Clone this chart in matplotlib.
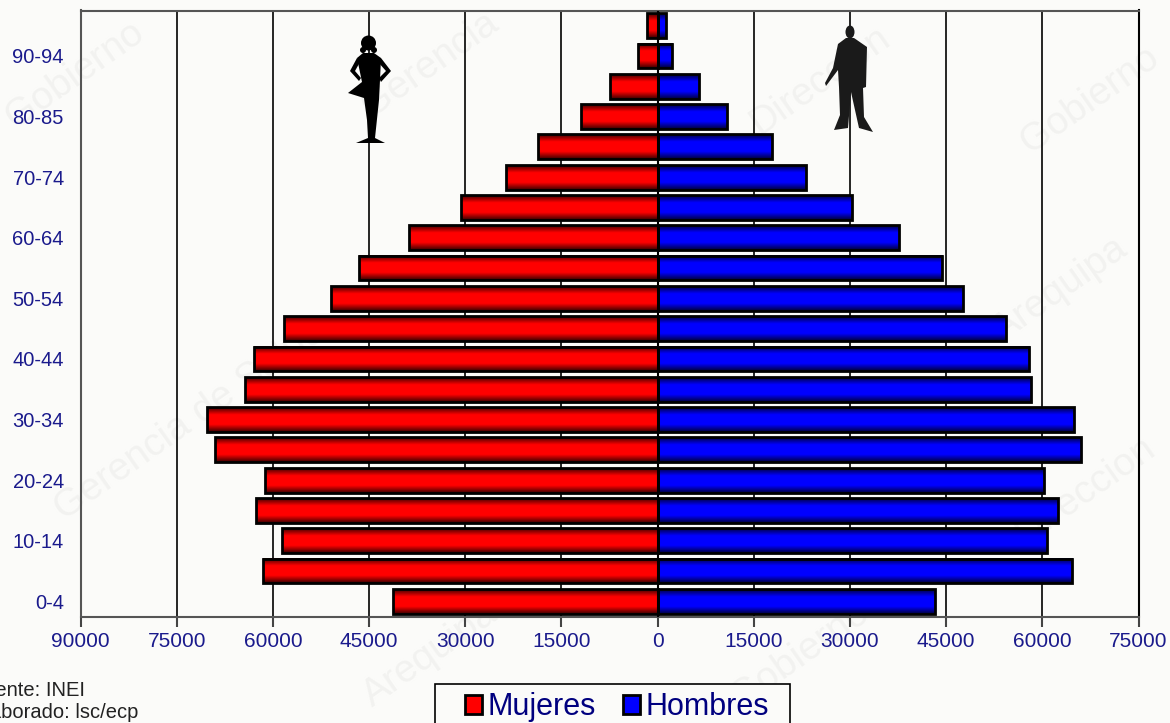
import numpy as np
import matplotlib
matplotlib.use("Agg")
import matplotlib.pyplot as plt
from matplotlib.colors import LinearSegmentedColormap
from matplotlib.patches import Polygon, Ellipse, Patch, Rectangle
from matplotlib.transforms import Affine2D

plt.rcParams['font.family'] = ['Liberation Sans', 'DejaVu Sans']

W, H = 1170, 723
BG = '#fbfbf9'
NAVY = '#1a1a8c'

# bottom row first: 0-4 ... 95+
mujeres = [41300, 61500, 58500, 62600, 61200, 69000, 70200, 64300, 62900, 58300,
           51000, 46500, 38700, 30600, 23700, 18700, 11900, 7500, 3000, 1700]
hombres = [43200, 64700, 60700, 62400, 60200, 66100, 65000, 58300, 58000, 54300,
           47700, 44300, 37600, 30300, 23100, 17800, 10900, 6400, 2300, 1250]

age_labels = ['0-4', '10-14', '20-24', '30-34', '40-44', '50-54', '60-64', '70-74', '80-85', '90-94']
x_ticks = [-90000, -75000, -60000, -45000, -30000, -15000, 0, 15000, 30000, 45000, 60000, 75000]

# silhouettes, in image pixels
woman_body = [(363, 53), (374, 53), (381, 58), (380, 80), (379, 100), (375, 138), (385, 143),
              (356, 143), (368, 138), (367, 120), (364, 98), (348, 93), (362, 82), (357, 58)]
woman_arm_l = [(357, 58), (350, 71), (359, 81), (361, 78), (355, 71), (360, 62)]
woman_arm_r = [(381, 58), (391, 71), (381, 82), (379, 78), (386, 71), (378, 62)]
man_body = [(846, 38), (854, 38), (867, 47), (866, 87), (863, 88), (864, 117), (873, 132),
            (859, 128), (851, 92), (848, 128), (834, 130), (840, 115), (839, 87), (838, 70),
            (826, 86), (825, 83), (833, 68), (838, 44)]

# watermark text scattered behind the chart
marks = [("Gobierno", 75, 75), ("Gerencia", 430, 65), ("Direccion", 820, 80), ("Gobierno", 1090, 100),
         ("Gerencia de Salud", 190, 420), ("Arequipa", 1060, 290), ("Direccion", 1085, 490),
         ("Arequipa", 430, 655), ("Gobierno", 800, 655)]


def gradient_bars(ax, widths, cmap):
    bars = ax.barh(np.arange(len(widths)), widths, height=0.82, facecolor='none',
                   edgecolor='black', linewidth=2, zorder=3)
    ramp = np.abs(np.linspace(-1, 1, 64)).reshape(-1, 1)
    for b in bars:
        x0, x1 = sorted((b.get_x(), b.get_x() + b.get_width()))
        y0, y1 = b.get_y(), b.get_y() + b.get_height()
        ax.imshow(ramp, extent=[x0, x1, y0, y1], cmap=cmap, vmin=0, vmax=1,
                  aspect='auto', zorder=2, interpolation='bilinear')


fig = plt.figure(figsize=(W / 100, H / 100), dpi=100, facecolor=BG)
px = Affine2D().scale(1, -1).translate(0, H)

for txt, mx, my in marks:
    fig.text(mx / W, 1 - my / H, txt, fontsize=28, color='#f2f2f0', rotation=35,
             ha='center', va='center', zorder=0)

ax = fig.add_axes([80.5 / W, 1 - 616.5 / H, (1138.5 - 80.5) / W, (616.5 - 10.5) / H], zorder=1)
ax.patch.set_alpha(0)

red = LinearSegmentedColormap.from_list('r', [(0, '#ff0000'), (0.4, '#ff0000'), (1, '#3c0000')])
blue = LinearSegmentedColormap.from_list('b', [(0, '#0000ff'), (0.4, '#0000ff'), (1, '#00003c')])
gradient_bars(ax, -np.array(mujeres), red)
gradient_bars(ax, np.array(hombres), blue)

ax.set_xlim(-90000, 75000)
ax.set_ylim(-0.5, 19.5)
ax.set_xticks(x_ticks)
ax.set_xticklabels([str(abs(v)) for v in x_ticks])
ax.set_yticks(np.arange(0, 20, 2))
ax.set_yticklabels(age_labels)
ax.tick_params(axis='x', length=7, width=1.5, color='#444444', labelsize=15, labelcolor=NAVY, pad=4)
ax.tick_params(axis='y', length=0, labelsize=14.5, labelcolor=NAVY, pad=12)
ax.grid(axis='x', color='black', linewidth=1.2, zorder=1)
ax.set_axisbelow(True)
for side in ['top', 'left', 'bottom', 'right']:
    ax.spines[side].set_color('#555555')
    ax.spines[side].set_linewidth(1.5)
ax.spines['right'].set_color('black')

ax.axvline(0, color='black', linewidth=1.5, zorder=4)

for pts, col in [(woman_body, 'black'), (woman_arm_l, 'black'), (woman_arm_r, 'black'), (man_body, '#1a1a1a')]:
    fig.add_artist(Polygon(pts, closed=True, facecolor=col, edgecolor='none', transform=px, zorder=6))
heads = [(368.5, 43, 15, 15, 'black'), (363, 50, 6, 6, 'black'), (374, 50, 6, 6, 'black'), (850, 32, 9, 13, '#1a1a1a')]
for cx, cy, w, h, col in heads:
    fig.add_artist(Ellipse((cx, cy), w, h, facecolor=col, edgecolor='none', transform=px, zorder=6))

fig.text(-28 / W, 1 - 691 / H, "Fuente: INEI", fontsize=14.5, color='#222222', va='center')
fig.text(-28 / W, 1 - 713 / H, "Elaborado: lsc/ecp", fontsize=14.5, color='#222222', va='center')

# legend box runs past the bottom edge of the image
fig.add_artist(Rectangle((435, 684), 355, 60, facecolor=BG, edgecolor='black', linewidth=1.2,
                         transform=px, zorder=5))
handles = [Patch(facecolor='#ff0000', edgecolor='black', linewidth=2, label='Mujeres'),
           Patch(facecolor='#0000ff', edgecolor='black', linewidth=2, label='Hombres')]
leg = fig.legend(handles=handles, loc='upper left', bbox_to_anchor=(465 / W, 1 - 692 / H), ncol=2,
                 fontsize=22, frameon=False, handlelength=0.55, handleheight=0.6, handletextpad=0.18,
                 columnspacing=0.9, borderpad=0, borderaxespad=0, labelcolor='#00007f')
leg.set_zorder(6)

fig.savefig('out.png', dpi=100, facecolor=BG)
